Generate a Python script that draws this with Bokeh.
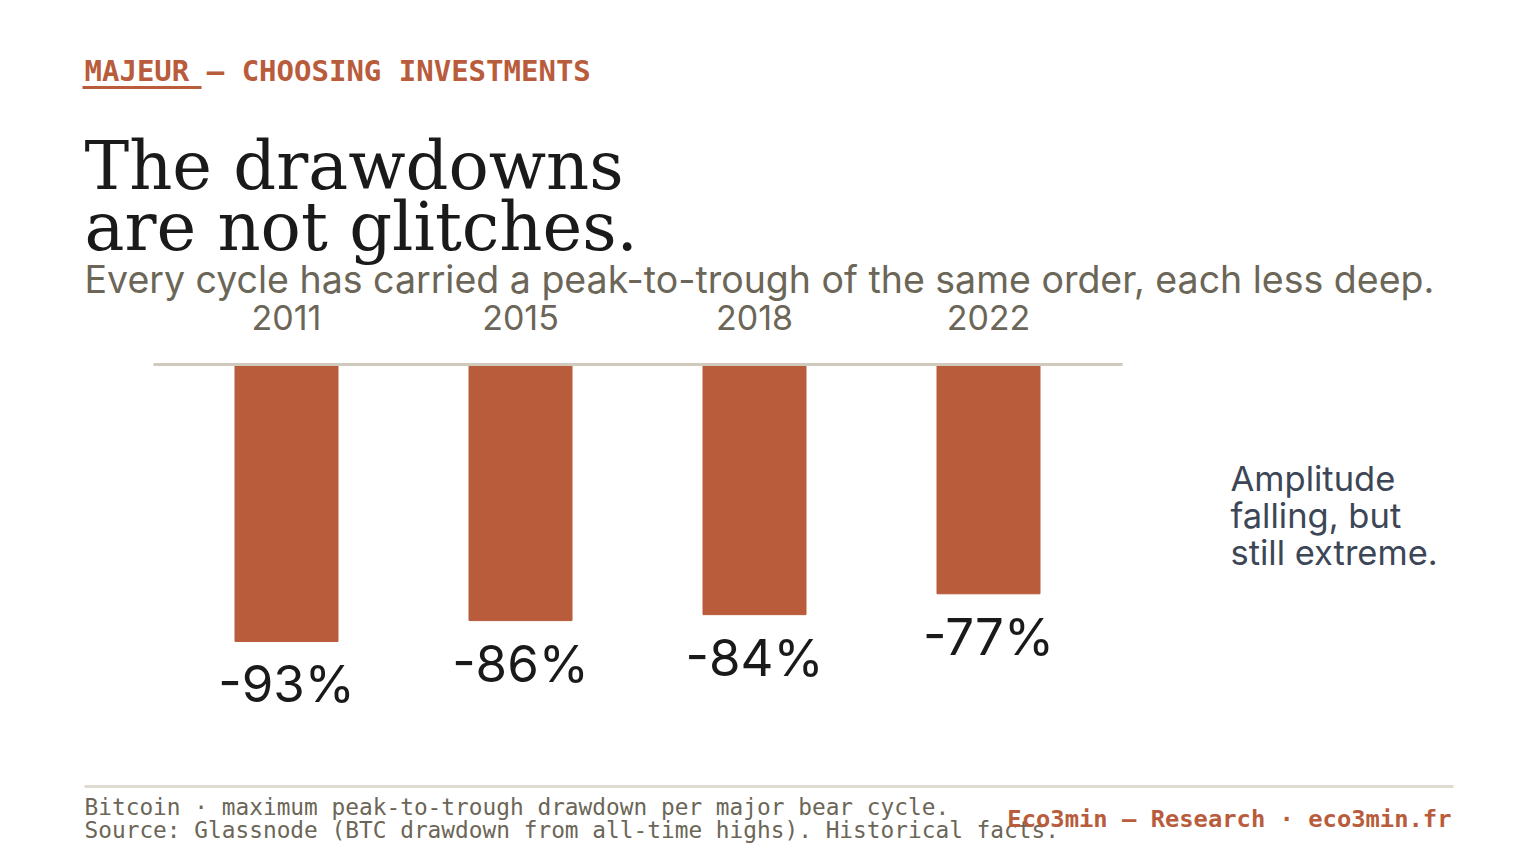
from bokeh.plotting import figure
from bokeh.models import Label, Range1d, ColumnDataSource
from bokeh.embed import file_html
from bokeh.resources import INLINE

years = ["2011", "2015", "2018", "2022"]
drawdowns = [-93, -86, -84, -77]
value_labels = ["-93%", "-86%", "-84%", "-77%"]

W, H = 1520, 848
STEP = 234.0
PXPCT = 2.978
X0 = -286 / STEP
Y1 = 364 / PXPCT

def px(xp):  # page px -> data x
    return X0 + xp / STEP

def py(yp):  # page px -> data y
    return Y1 - yp / PXPCT

p = figure(width=W, height=H, output_backend="svg", toolbar_location=None,
           x_range=Range1d(X0, X0 + W / STEP), y_range=Range1d(Y1 - H / PXPCT, Y1),
           min_border=0, outline_line_color=None)
p.axis.visible = False
p.grid.visible = False
p.background_fill_color = "white"
p.border_fill_color = "white"

idx = list(range(len(years)))
src = ColumnDataSource(dict(x=idx, top=[0]*4, bottom=drawdowns, yr=years, lab=value_labels,
                            laby=[d - 4 for d in drawdowns]))
p.vbar(x="x", top="top", bottom="bottom", width=103 / STEP, color="#b85c3c", source=src)
p.line([px(153), px(1122)], [0, 0], line_color="#d0cabd", line_width=3)
p.text(x="x", y=py(329), text="yr", source=src, text_align="center", text_baseline="bottom",
       text_font={"value": "Inter"}, text_font_size="34px", text_color="#6b6657")
p.text(x="x", y="laby", text="lab", source=src, text_align="center", text_baseline="top",
       text_font={"value": "Inter"}, text_font_size="51px", text_color="#1a1a1a")

def lab(t, x, y, size, color, font, style="normal", align="left"):
    off = 0.36 * size
    p.add_layout(Label(x=px(x), y=py(y - off), text=t, text_font_size=f"{size}px",
                       text_color=color, text_font=font, text_font_style=style,
                       text_align=align, text_baseline="alphabetic"))

lab("MAJEUR — CHOOSING INVESTMENTS", 84, 81, 29, "#b85c3c", "DejaVu Sans Mono", "bold")
p.line([px(82), px(201)], [py(87), py(87)], line_color="#b85c3c", line_width=3)
lab("The drawdowns", 84, 190, 67, "#1a1a1a", "DejaVu Serif")
lab("are not glitches.", 84, 251, 67, "#1a1a1a", "DejaVu Serif")
lab("Every cycle has carried a peak-to-trough of the same order, each less deep.", 84, 292,
    37.5, "#6b6657", "Inter")
for i, t in enumerate(["Amplitude", "falling, but", "still extreme."]):
    lab(t, 1230, 490 + 37 * i, 34.5, "#3d4656", "Inter")
p.line([px(84), px(1453)], [py(786), py(786)], line_color="#e0dbd0", line_width=3)
lab("Bitcoin · maximum peak-to-trough drawdown per major bear cycle.", 84, 815, 22.8,
    "#6b6657", "DejaVu Sans Mono")
lab("Source: Glassnode (BTC drawdown from all-time highs). Historical facts.", 84, 838, 22.8,
    "#6b6657", "DejaVu Sans Mono")
lab("Eco3min — Research · eco3min.fr", 1451, 827, 23.8, "#b85c3c", "DejaVu Sans Mono",
    "bold", "right")

open("out.html", "w").write(file_html(p, INLINE))
